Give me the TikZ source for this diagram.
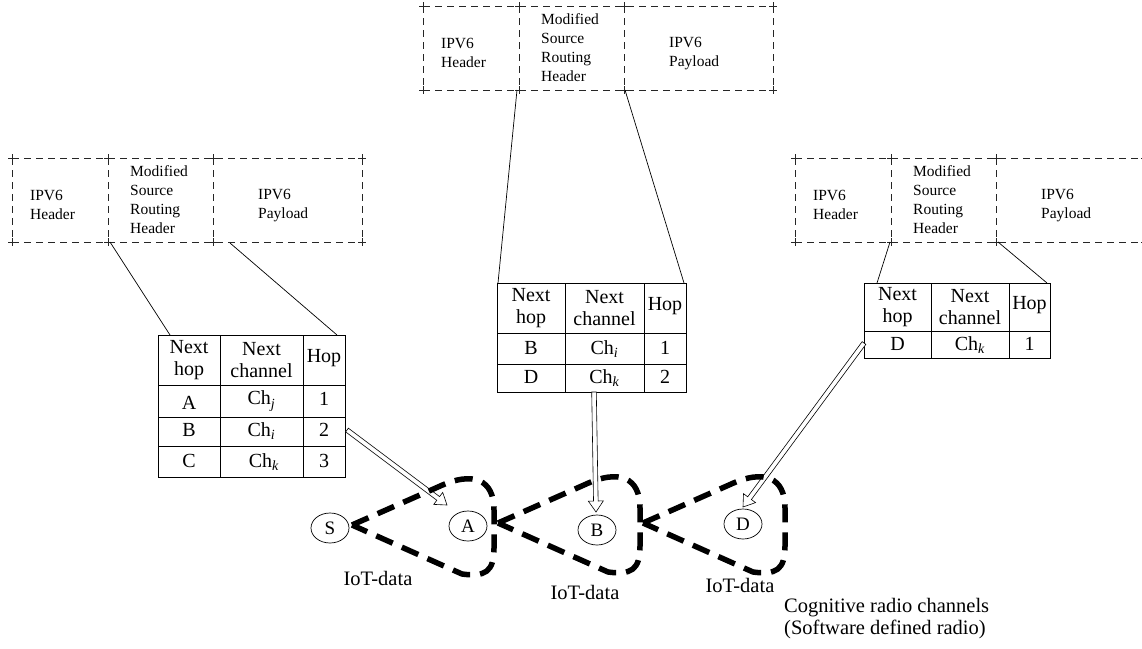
\documentclass[tikz,border=0pt]{standalone}
\usepackage{fontspec}
\setmainfont{Liberation Serif}
\usetikzlibrary{calc,shapes.geometric}

% dashed packet header: name, left x, top y, right x
\newcommand\pkthdr[4]{%
  \draw[hdrline] (#2,#3) -- (#4,#3) (#2,#3+84) -- (#4,#3+84);
  \foreach \xx in {#2,#2+96,#2+201,#4}{%
    \draw[hdrline] (\xx,#3) -- (\xx,#3+84);
    \draw[hdrtick] (\xx-4,#3) -- (\xx+4,#3) (\xx,#3-4) -- (\xx,#3+4);
    \draw[hdrtick] (\xx-4,#3+84) -- (\xx+4,#3+84) (\xx,#3+80) -- (\xx,#3+88);
  }
  \node[hdrtext] (#1-h) at (#2+18,#3+47) {IPV6\\Header};
  \node[hdrtext] (#1-m) at (#2+118,#3+42) {Modified\\Source\\Routing\\Header};
  \node[hdrtext] (#1-p) at (#2+246,#3+48) {IPV6\\Payload};
}

% hollow double-shafted arrow between two named points
\newcommand\hollowarrow[2]{%
  \coordinate (ha-b) at ($(#2)!11pt!(#1)$);
  \filldraw[fill=white,draw=black,line width=0.6pt]
    ($(#1)!2.3pt!90:(#2)$) -- ($(ha-b)!2.3pt!90:(#2)$) -- ($(ha-b)!7.5pt!90:(#2)$)
    -- (#2) -- ($(ha-b)!7.5pt!-90:(#2)$) -- ($(ha-b)!2.3pt!-90:(#2)$)
    -- ($(#1)!2.3pt!-90:(#2)$) -- cycle;
}

\begin{document}
\begin{tikzpicture}[x=1pt,y=-1pt,
  hdrline/.style={draw=black!85,line width=0.7pt,dash pattern=on 7pt off 5pt},
  hdrtick/.style={draw=black!85,line width=0.7pt},
  hdrtext/.style={font=\fontsize{15.5}{19}\selectfont,align=left,anchor=west,inner sep=0pt},
  tabline/.style={draw=black,line width=0.8pt},
  tabtxt/.style={font=\fontsize{20}{22}\selectfont,align=center,inner sep=0pt},
  link/.style={draw=black,line width=0.7pt},
  station/.style={ellipse,draw=black,line width=0.7pt,minimum width=38pt,minimum height=30pt,
    inner sep=0pt,font=\fontsize{19}{19}\selectfont},
  channel/.style={draw=black,line width=5.5pt,dash pattern=on 18pt off 10pt},
  lbl/.style={font=\fontsize{20.5}{22}\selectfont,inner sep=0pt,align=left}
]
\useasboundingbox (0,0) rectangle (1142,648);

% packet headers
\pkthdr{hl}{12}{158}{362}
\pkthdr{hm}{423}{6}{773}
\pkthdr{hr}{795}{158}{1145}

% routing table carried by S
\draw[tabline] (158,335) rectangle (345,477);
\draw[tabline] (158,385) -- (345,385) (158,417) -- (345,417) (158,446) -- (345,446)
               (220,335) -- (220,477) (303,335) -- (303,477);
\node[tabtxt] (lt-h1) at (189,360) {Next\\hop};
\node[tabtxt] (lt-h2) at (261.5,360) {Next\\channel};
\node[tabtxt] (lt-h3) at (324,358) {Hop};
\node[tabtxt] (lt-a1) at (189,403) {A};
\node[tabtxt] (lt-a2) at (261.5,401) {Ch\textsubscript{\textit{j}}};
\node[tabtxt] (lt-a3) at (324,399) {1};
\node[tabtxt] (lt-b1) at (189,430) {B};
\node[tabtxt] (lt-b2) at (261.5,431) {Ch\textsubscript{\textit{i}}};
\node[tabtxt] (lt-b3) at (324,430) {2};
\node[tabtxt] (lt-c1) at (189,461) {C};
\node[tabtxt] (lt-c2) at (264,462) {Ch\textsubscript{\textit{k}}};
\node[tabtxt] (lt-c3) at (324,461) {3};

% routing table carried by A
\draw[tabline] (497,283) rectangle (686,392);
\draw[tabline] (497,333) -- (686,333) (497,364) -- (686,364)
               (565,283) -- (565,392) (644,283) -- (644,392);
\node[tabtxt] (mt-h1) at (531,308) {Next\\hop};
\node[tabtxt] (mt-h2) at (604.5,308) {Next\\channel};
\node[tabtxt] (mt-h3) at (665,306) {Hop};
\node[tabtxt] (mt-a1) at (531,348) {B};
\node[tabtxt] (mt-a2) at (604.5,349) {Ch\textsubscript{\textit{i}}};
\node[tabtxt] (mt-a3) at (665,348) {1};
\node[tabtxt] (mt-b1) at (531,377) {D};
\node[tabtxt] (mt-b2) at (604.5,378) {Ch\textsubscript{\textit{k}}};
\node[tabtxt] (mt-b3) at (665,377) {2};

% routing table carried by B
\draw[tabline] (864,283) rectangle (1050,358);
\draw[tabline] (864,331) -- (1050,331) (931,283) -- (931,358) (1009,283) -- (1009,358);
\node[tabtxt] (rt-h1) at (897.5,307) {Next\\hop};
\node[tabtxt] (rt-h2) at (970,307) {Next\\channel};
\node[tabtxt] (rt-h3) at (1029.5,305) {Hop};
\node[tabtxt] (rt-a1) at (897.5,344) {D};
\node[tabtxt] (rt-a2) at (970,345) {Ch\textsubscript{\textit{k}}};
\node[tabtxt] (rt-a3) at (1029.5,344) {1};

% attachment points of the headers and tables
\coordinate (hl-s1) at (110,242); \coordinate (hl-s2) at (230,243);
\coordinate (lt-e1) at (170,335); \coordinate (lt-e2) at (337,335);
\coordinate (hm-s1) at (517,90);  \coordinate (hm-s2) at (625,90);
\coordinate (mt-e1) at (498,283); \coordinate (mt-e2) at (684,283);
\coordinate (hr-s1) at (890,242); \coordinate (hr-s2) at (998,242);
\coordinate (rt-e1) at (877,283); \coordinate (rt-e2) at (1047,283);

\draw[link] (hl-s1) -- (lt-e1) (hl-s2) -- (lt-e2);
\draw[link] (hm-s1) -- (mt-e1) (hm-s2) -- (mt-e2);
\draw[link] (hr-s1) -- (rt-e1) (hr-s2) -- (rt-e2);

% stations
\node[station] (S) at (330,528) {S};
\node[station] (A) at (468,526) {A};
\node[station] (B) at (597,530) {B};
\node[station] (D) at (743,524) {D};

% table-to-station hand-over arrows
\coordinate (lt-out) at (347,430); \coordinate (A-in) at (447,505);
\coordinate (mt-out) at (594,392); \coordinate (B-in) at (596,512);
\coordinate (rt-out) at (864,343); \coordinate (D-in) at (743,507);
\hollowarrow{lt-out}{A-in}
\hollowarrow{mt-out}{B-in}
\hollowarrow{rt-out}{D-in}

% cognitive radio channel hops
\foreach \dx/\dy in {0/0,146/-2,291/-2}{
  \begin{scope}[shift={(\dx,\dy)}]
    \draw[channel] (352,525) -- (438,487) .. controls (474,470) and (494,480) .. (494,510)
      -- (494,548) .. controls (494,572) and (485,577) .. (462,574) -- cycle;
  \end{scope}
}

% labels
\node[lbl] (iot1) at (378,578) {IoT-data};
\node[lbl] (iot2) at (585,592) {IoT-data};
\node[lbl] (iot3) at (740,585) {IoT-data};
\node[lbl,anchor=west] (crc) at (784,619) {Cognitive radio channels\\(Software defined radio)};
\end{tikzpicture}
\end{document}
